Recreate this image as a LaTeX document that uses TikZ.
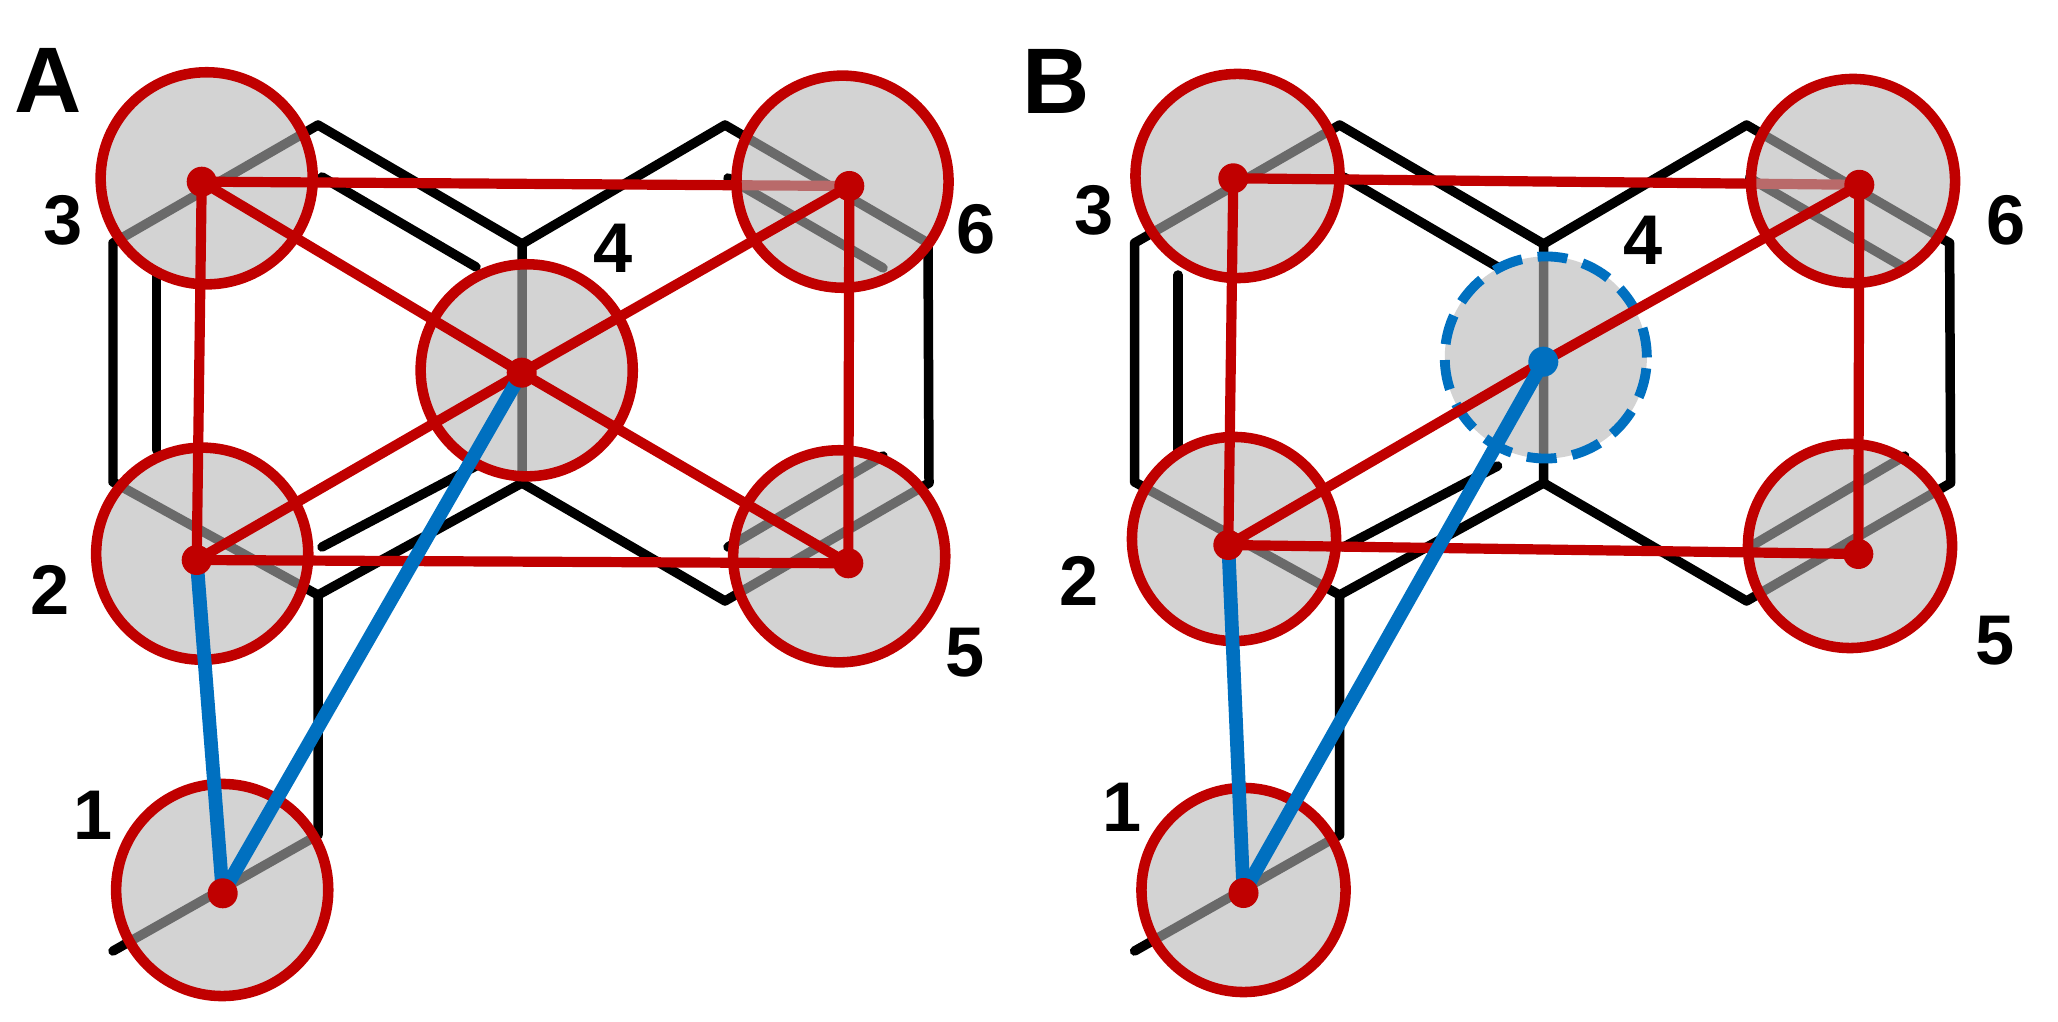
\documentclass[tikz,border=0pt]{standalone}
\usepackage{fontspec}
\setmainfont{Liberation Sans}
\definecolor{sitered}{RGB}{192,0,0}
\definecolor{siteblue}{RGB}{0,112,192}
\definecolor{shade}{gray}{0.71}

% carbon skeleton of one panel
\newcommand{\skeleton}{%
\coordinate (ra) at (113,243);
\coordinate (rb) at (318,125);
\coordinate (rc) at (522,244);
\coordinate (rd) at (522,483);
\coordinate (re) at (318,595);
\coordinate (rf) at (113,482);
\coordinate (rg) at (725,125);
\coordinate (rh) at (928,243);
\coordinate (ri) at (929,483);
\coordinate (rj) at (725,601);
\coordinate (rk) at (318,835);
\coordinate (rl) at (113,951);
\coordinate (ia1) at (156.5,275);
\coordinate (ia2) at (156.5,450);
\coordinate (ib1) at (322,177);
\coordinate (ib2) at (476,267);
\coordinate (ic1) at (322,547);
\coordinate (ic2) at (476,466);
\coordinate (id1) at (728,178);
\coordinate (id2) at (883,268);
\coordinate (ie1) at (728,547);
\coordinate (ie2) at (883,456);
\draw[bond] (rb) -- (ra) -- (rf) -- (re) -- (rd) -- (rc) -- cycle;
\draw[bond] (rc) -- (rg) -- (rh) -- (ri) -- (rj) -- (rd);
\draw[bond] (re) -- (rk) -- (rl);
\draw[bond] (ia1) -- (ia2);
\draw[bond] (ib1) -- (ib2);
\draw[bond] (ic1) -- (ic2);
\draw[bond] (id1) -- (id2);
\draw[bond] (ie1) -- (ie2);
}

\begin{document}
\begin{tikzpicture}[x=0.01cm, y=-0.01cm,
	bond/.style={line width=2.7pt, line cap=round, line join=round},
	site/.style={circle, draw=sitered, line width=3pt, fill=shade,
		fill opacity=0.59, inner sep=0pt, minimum size=#1},
	hop/.style={sitered, line width=2.9pt, line cap=round, line join=round},
	jump/.style={siteblue, line width=3.9pt, line cap=round},
	dot/.style={circle, fill=#1, inner sep=0pt, minimum size=0.3cm},
	num/.style={inner sep=0pt, font=\bfseries\fontsize{20}{20}\selectfont},
	panel/.style={inner sep=0pt, font=\bfseries\fontsize{26.5}{26.5}\selectfont}]
\useasboundingbox (0,0) rectangle (2058,1022);

% panel A
\skeleton
\coordinate (p1) at (222.7,893.3);
\coordinate (p2) at (196.7,560);
\coordinate (p3) at (201.7,181.7);
\coordinate (p4) at (521.7,372.7);
\coordinate (p5) at (848.3,563.3);
\coordinate (p6) at (849.3,186);
\node[site=2.12cm] (s1) at (222.2,890) {};
\node[site=2.12cm] (s2) at (202.2,553.7) {};
\node[site=2.12cm] (s3) at (206.7,178.3) {};
\node[site=2.12cm] (s4) at (526.7,370.3) {};
\node[site=2.12cm] (s5) at (839.2,556.3) {};
\draw[hop] (p3) -- (p6);
\node[site=2.12cm] (s6) at (842.5,181.7) {};
\draw[hop] (p3) -- (p2) -- (p5) -- (p6);
\draw[hop] (p3) -- (p4) -- (p5);
\draw[hop] (p6) -- (p4) -- (p2);
\draw[jump] (p1) -- (p2);
\draw[jump] (p1) -- (p4);
\foreach \i in {1,...,6}
	\node[dot=sitered] (d\i) at (p\i) {};
\node[panel] (la) at (48.3,80.3) {A};
\node[num] (n1) at (93.3,815) {1};
\node[num] (n2) at (50,590) {2};
\node[num] (n3) at (63.3,220) {3};
\node[num] (n4) at (613,248) {4};
\node[num] (n5) at (964.6,653) {5};
\node[num] (n6) at (975.7,229.7) {6};

% panel B
\begin{scope}[xshift=10.21cm]
\skeleton
\end{scope}
\coordinate (q1) at (1243.5,893);
\coordinate (q2) at (1228.3,545);
\coordinate (q3) at (1233.3,178.3);
\coordinate (q4) at (1543.3,361.7);
\coordinate (q5) at (1858.3,554);
\coordinate (q6) at (1859.3,184.8);
\node[site=2.04cm] (t1) at (1243.5,890) {};
\node[site=2.04cm] (t2) at (1234,539) {};
\node[site=2.04cm] (t3) at (1237.5,176) {};
\node[site=2.02cm, draw=siteblue, line width=2.8pt,
	dash pattern=on 8.5pt off 4.5pt] (t4) at (1545.8,357.5) {};
\node[site=2.04cm] (t5) at (1850,546) {};
\draw[hop] (q3) -- (q6);
\node[site=2.04cm] (t6) at (1853,181) {};
\draw[hop] (q3) -- (q2) -- (q5) -- (q6);
\draw[hop] (q2) -- (q4) -- (q6);
\draw[jump] (q1) -- (q2);
\draw[jump] (q1) -- (q4);
\foreach \i in {1,2,3,5,6}
	\node[dot=sitered] (e\i) at (q\i) {};
\node[dot=siteblue] (e4) at (q4) {};
\node[panel] (lb) at (1056.5,81.7) {B};
\node[num] (m1) at (1122,807) {1};
\node[num] (m2) at (1079.3,581) {2};
\node[num] (m3) at (1094.4,210.5) {3};
\node[num] (m4) at (1643,240) {4};
\node[num] (m5) at (1995,641) {5};
\node[num] (m6) at (2006,220) {6};
\end{tikzpicture}
\end{document}
